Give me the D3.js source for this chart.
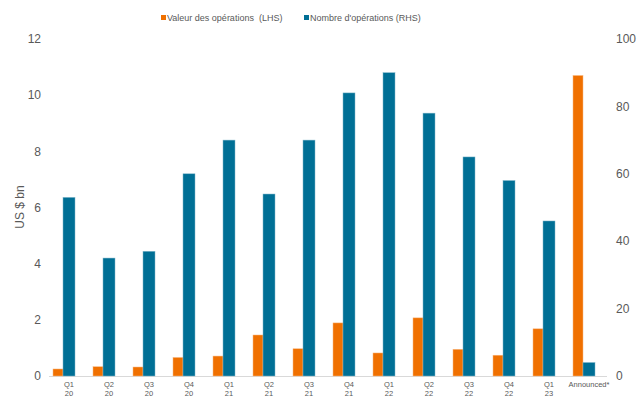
<!DOCTYPE html>
<html>
<head>
<meta charset="utf-8">
<script src="https://cdn.jsdelivr.net/npm/d3@7"></script>
<style>
  body { margin: 0; background: #fff; }
  svg { font-family: "Liberation Sans", Arial, sans-serif; }
</style>
</head>
<body>
<div id="chart"></div>
<script>
// Categories (two-line labels, split on "\n").
const categories = ["Q1\n20", "Q2\n20", "Q3\n20", "Q4\n20", "Q1\n21", "Q2\n21", "Q3\n21",
  "Q4\n21", "Q1\n22", "Q2\n22", "Q3\n22", "Q4\n22", "Q1\n23", "Announced*"];
// Deal value, US $ bn (left axis).
const dealValue = [0.25, 0.33, 0.32, 0.66, 0.71, 1.46, 0.97, 1.89, 0.82, 2.07, 0.95, 0.74, 1.68, 10.7];
// Number of deals (right axis).
const dealCount = [53, 35, 37, 60, 70, 54, 70, 84, 90, 78, 65, 58, 46, 4];
const leftTicks = [0, 2, 4, 6, 8, 10, 12];
const rightTicks = [0, 20, 40, 60, 80, 100];
const legendLabels = ["Valeur des opérations  (LHS)", "Nombre d'opérations (RHS)"];

const width = 640, height = 397;
const orange = "#F07000", blue = "#006F95", textColor = "#595959";

const svg = d3.select("#chart").append("svg")
  .attr("width", width)
  .attr("height", height);

const x = d3.scaleBand().domain(categories).range([49, 609]);
const yL = d3.scaleLinear().domain([0, 12]).range([376, 39]);
const yR = d3.scaleLinear().domain([0, 100]).range([376, 39]);

// Baseline
svg.append("line")
  .attr("x1", 49).attr("x2", 607)
  .attr("y1", yL(0) + 0.5).attr("y2", yL(0) + 0.5)
  .attr("stroke", "#d9d9d9").attr("stroke-width", 1);

// Orange bars (left of category centre)
svg.append("g").selectAll("rect")
  .data(dealValue)
  .join("rect")
  .attr("x", (d, i) => x(categories[i]) + x.bandwidth() / 2 - 16)
  .attr("width", 10)
  .attr("y", d => yL(d))
  .attr("height", d => yL(0) - yL(d))
  .attr("fill", orange)
  .attr("stroke", "#f8b880").attr("stroke-width", 0.5);

// Blue bars (centred on category)
svg.append("g").selectAll("rect")
  .data(dealCount)
  .join("rect")
  .attr("x", (d, i) => x(categories[i]) + x.bandwidth() / 2 - 6)
  .attr("width", 12)
  .attr("y", d => yR(d))
  .attr("height", d => yR(0) - yR(d))
  .attr("fill", blue)
  .attr("stroke", "#7fb6ca").attr("stroke-width", 0.5);

// Left axis labels
svg.append("g").selectAll("text")
  .data(leftTicks)
  .join("text")
  .attr("x", 41)
  .attr("y", d => yL(d))
  .attr("dy", "0.35em")
  .attr("text-anchor", "end")
  .attr("fill", textColor)
  .style("font-size", "12px")
  .text(d => d);

// Right axis labels
svg.append("g").selectAll("text")
  .data(rightTicks)
  .join("text")
  .attr("x", 616)
  .attr("y", d => yR(d))
  .attr("dy", "0.35em")
  .attr("text-anchor", "start")
  .attr("fill", textColor)
  .style("font-size", "12px")
  .text(d => d);

// Y axis title
svg.append("text")
  .attr("transform", "translate(24,207) rotate(-90)")
  .attr("text-anchor", "middle")
  .attr("fill", textColor)
  .style("font-size", "12px")
  .text("US $ bn");

// X labels
const xl = svg.append("g").selectAll("text")
  .data(categories)
  .join("text")
  .attr("x", d => x(d) + x.bandwidth() / 2)
  .attr("y", 387)
  .attr("text-anchor", "middle")
  .attr("fill", textColor)
  .style("font-size", "7.5px");
xl.each(function(d) {
  const lines = d.split("\n");
  const t = d3.select(this);
  lines.forEach((s, k) => {
    t.append("tspan")
      .attr("x", t.attr("x"))
      .attr("dy", k === 0 ? 0 : 9)
      .text(s);
  });
});

// Legend
const legend = svg.append("g").style("font-size", "9px");
[[161, orange], [304, blue]].forEach(([lx, c], i) => {
  legend.append("rect")
    .attr("x", lx).attr("y", 15).attr("width", 5).attr("height", 5)
    .attr("fill", c);
  legend.append("text")
    .attr("x", lx + 6).attr("y", 17.5)
    .attr("dy", "0.35em")
    .attr("fill", textColor)
    .style("white-space", "pre")
    .text(legendLabels[i]);
});
</script>
</body>
</html>
